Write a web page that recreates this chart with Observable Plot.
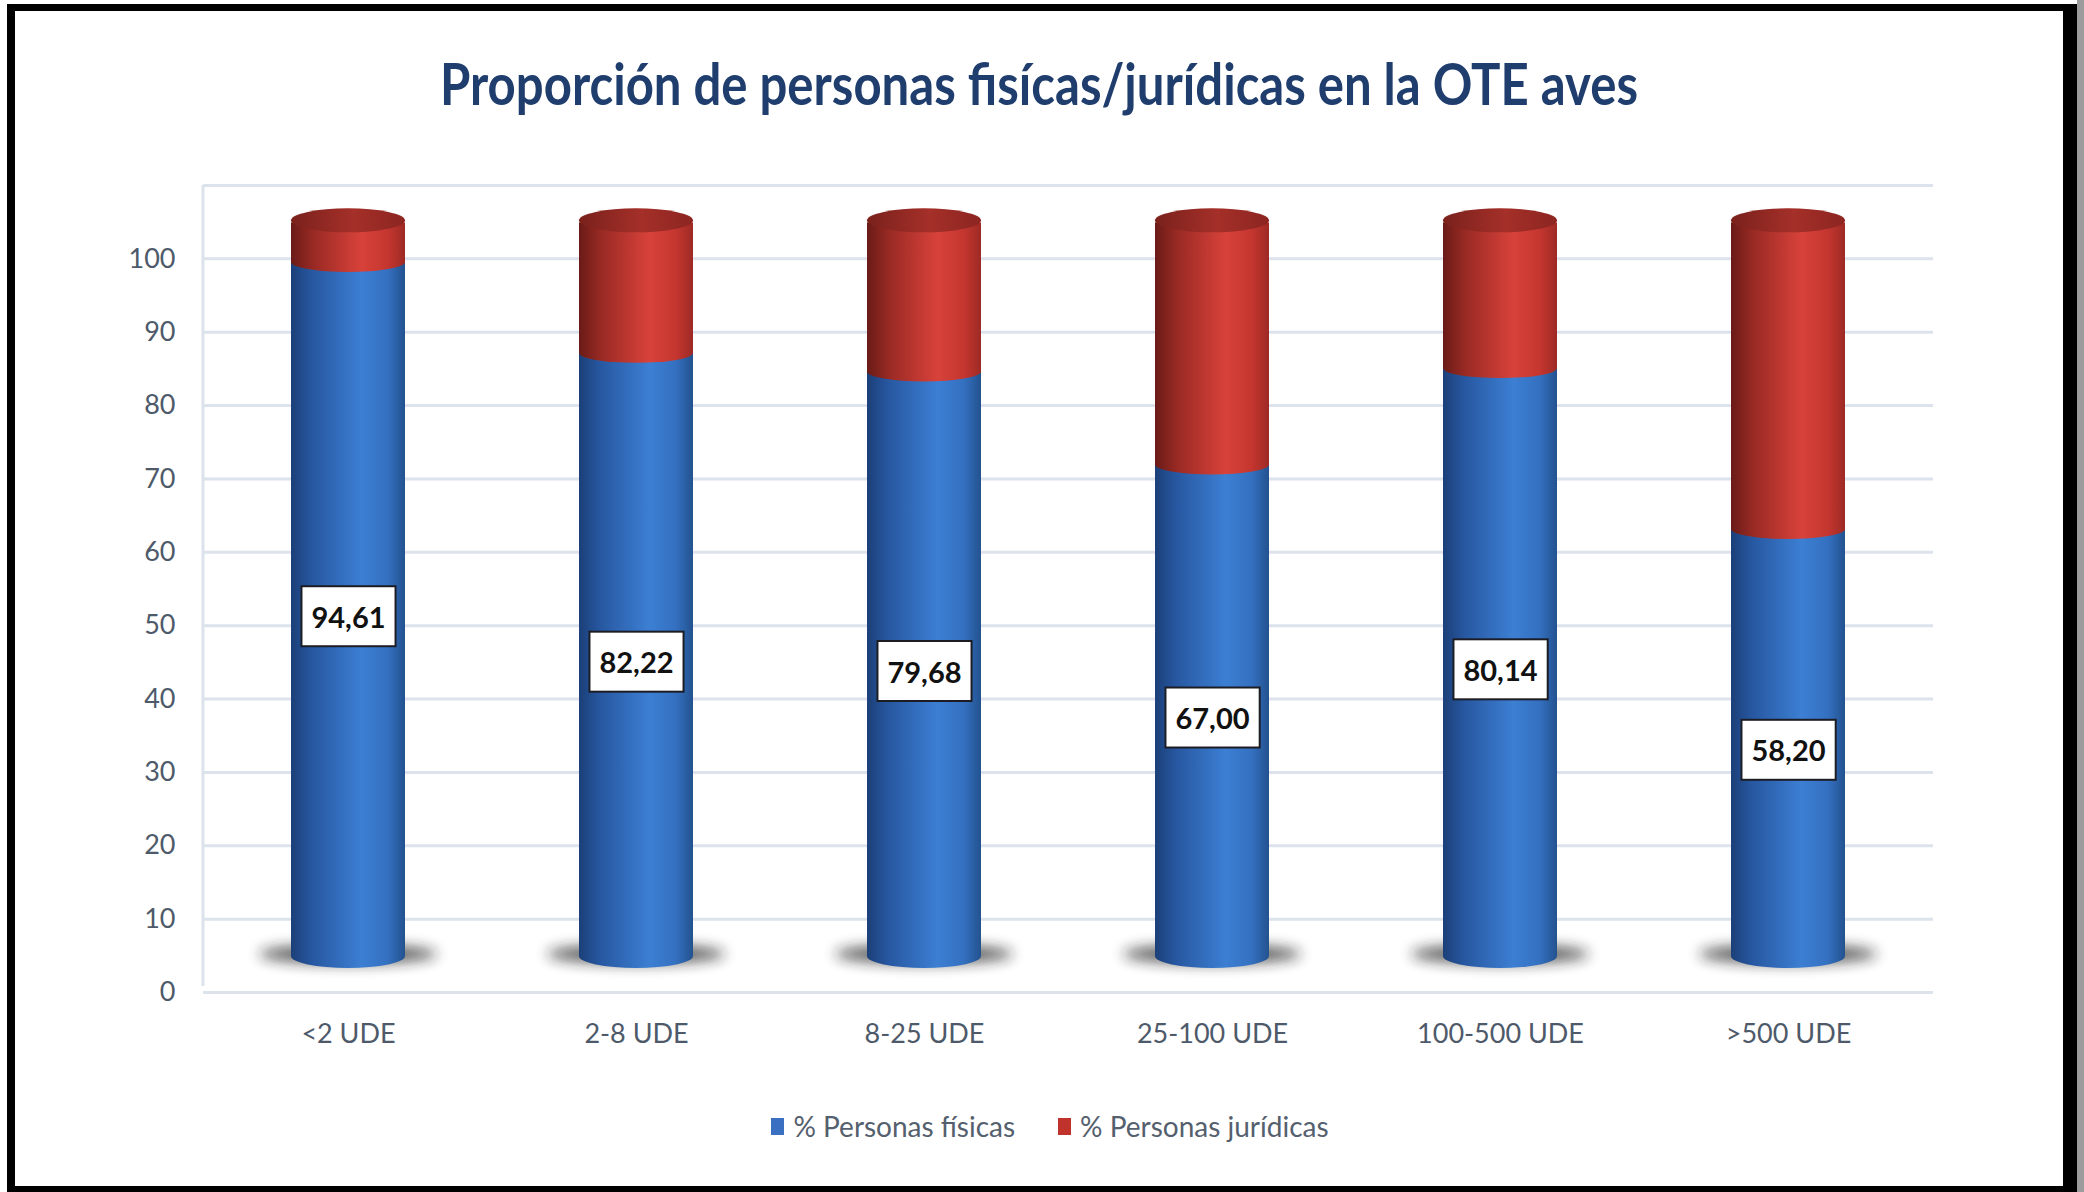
<!DOCTYPE html>
<html>
<head>
<meta charset="utf-8">
<script src="https://cdn.jsdelivr.net/npm/d3@7"></script>
<script src="https://cdn.jsdelivr.net/npm/@observablehq/plot@0.6"></script>
<style>
  html, body { margin: 0; padding: 0; background: #fff; }
  body { width: 2084px; height: 1192px; position: relative; overflow: hidden; font-family: Lato, "Open Sans", sans-serif; }
  #rightgray { position: absolute; left: 2077px; top: 0; width: 7px; height: 1192px; background: #9c9c9c; }
  #frame { position: absolute; left: 7px; top: 4px; width: 2070px; height: 1188px; box-sizing: border-box;
           border-style: solid; border-color: #000; border-width: 7px 14px 6px 8px; background: #fff; }
  #title { height: 139px; display: block; }
  #chart svg { display: block; }
  #legend { height: 126px; display: flex; justify-content: center; align-items: flex-start; padding-top: 51px; box-sizing: border-box;
            font-size: 28px; color: #55606e; gap: 43px; padding-left: 22px; }
  .item { display: flex; align-items: center; gap: 9px; line-height: 30px; }
  .sw { width: 13px; height: 17px; display: inline-block; }
</style>
</head>
<body>
<div id="rightgray"></div>
<svg width="0" height="0" style="position:absolute">
  <defs>
    <linearGradient id="gBlue" x1="0" x2="1" y1="0" y2="0">
      <stop offset="0" stop-color="#1b3f78"/>
      <stop offset="0.18" stop-color="#2757a0"/>
      <stop offset="0.62" stop-color="#3c7fd3"/>
      <stop offset="0.85" stop-color="#3470c0"/>
      <stop offset="1" stop-color="#23528f"/>
    </linearGradient>
    <linearGradient id="gRed" x1="0" x2="1" y1="0" y2="0">
      <stop offset="0" stop-color="#6a1b17"/>
      <stop offset="0.2" stop-color="#9a2a24"/>
      <stop offset="0.62" stop-color="#d8423a"/>
      <stop offset="0.85" stop-color="#c4362f"/>
      <stop offset="1" stop-color="#9e2a24"/>
    </linearGradient>
    <linearGradient id="gCap" x1="0" x2="1" y1="0" y2="0">
      <stop offset="0" stop-color="#7a211c"/>
      <stop offset="0.55" stop-color="#a52f29"/>
      <stop offset="1" stop-color="#8c2520"/>
    </linearGradient>
    <filter id="blurShadow" x="-50%" y="-200%" width="200%" height="500%">
      <feGaussianBlur stdDeviation="7"/>
    </filter>
  </defs>
</svg>
<div id="frame">
  <svg id="title" width="2048" height="139">
    <text x="1024" y="94" text-anchor="middle" font-family="Lato, 'Open Sans', sans-serif" font-weight="bold"
          font-size="58" fill="#1f3d6d" textLength="1198" lengthAdjust="spacingAndGlyphs">Proporción de personas fisícas/jurídicas en la OTE aves</text>
  </svg>
  <div id="chart"></div>
  <div id="legend"></div>
</div>
<script>
// ---- data ----
const categories = ["<2 UDE", "2-8 UDE", "8-25 UDE", "25-100 UDE", "100-500 UDE", ">500 UDE"];
const seriesNames = ["% Personas físicas", "% Personas jurídicas"];
const fisicas = [94.61, 82.22, 79.68, 67.00, 80.14, 58.20];
const juridicas = [5.39, 17.78, 20.32, 33.00, 19.86, 41.80];
const yTicks = [0, 10, 20, 30, 40, 50, 60, 70, 80, 90, 100];
const gridTicks = [0, 10, 20, 30, 40, 50, 60, 70, 80, 90, 100, 110];
const seriesColors = ["#3a6fc2", "#c0322c"];

// ---- table ----
const fisRows = categories.map((c, i) => ({cat: c, series: seriesNames[0], value: fisicas[i]}));
const jurRows = categories.map((c, i) => ({cat: c, series: seriesNames[1], value: juridicas[i]}));
const rows = fisRows.concat(jurRows);
const fmt = v => v.toFixed(2).replace(".", ",");

const chart = Plot.plot({
  width: 2048,
  height: 910,
  marginLeft: 188,
  marginRight: 130,
  marginTop: 35,
  marginBottom: 68,
  style: {fontFamily: "Lato, 'Open Sans', sans-serif", fontSize: "27px", color: "#4e5a6a", background: "transparent", overflow: "visible"},
  x: {domain: categories, paddingInner: 0.605, paddingOuter: 0.3025, tickSize: 0, tickPadding: 31, label: null},
  y: {domain: [0, 110], ticks: yTicks, tickSize: 0, tickPadding: 28, label: null},
  color: {domain: seriesNames, range: ["url(#gBlue)", "url(#gRed)"]},
  marks: [
    Plot.ruleY(gridTicks, {stroke: "#dce3ec", strokeWidth: 3}),
    Plot.barY(rows, {x: "cat", y: "value", fill: "series", order: seriesNames, dy: -36}),
    Plot.text(fisRows, Plot.stackY({x: "cat", y: "value", text: d => fmt(d.value), dy: -27,
      fontSize: 29, fontWeight: "bold", fontFamily: "Lato, sans-serif", fill: "#111"}))
  ]
});
document.getElementById("chart").appendChild(chart);

// ---- cylinder decoration derived from the drawn bars ----
const ns = "http://www.w3.org/2000/svg";
const svg = chart.tagName.toLowerCase() === "svg" ? chart : chart.querySelector("svg");
function el(name, attrs) { const e = document.createElementNS(ns, name); for (const k in attrs) e.setAttribute(k, attrs[k]); return e; }

// left wall line
const ys = chart.scale("y"), xs = chart.scale("x");
const wall = el("line", {x1: xs.range[0], x2: xs.range[0], y1: ys.apply(110), y2: ys.apply(0) - 6, stroke: "#dce3ec", "stroke-width": 3});
svg.insertBefore(wall, svg.querySelector("g"));

const rects = [...svg.querySelectorAll("rect")].filter(r => (r.getAttribute("fill") || "").startsWith("url(#g"));
const tops = [];
rects.forEach(r => {
  const x = +r.getAttribute("x"), y = +r.getAttribute("y"), w = +r.getAttribute("width"), h = +r.getAttribute("height");
  const cx = x + w / 2, parent = r.parentNode, fill = r.getAttribute("fill");
  if (fill === "url(#gBlue)") {
    const sh = el("ellipse", {cx, cy: y + h - 2, rx: w * 0.78, ry: 10, fill: "#1a1a1a", opacity: 0.7, filter: "url(#blurShadow)"});
    parent.insertBefore(sh, parent.firstChild);
    parent.appendChild(el("ellipse", {cx, cy: y + h, rx: w / 2, ry: 12, fill: "url(#gBlue)"}));
  } else {
    parent.appendChild(el("ellipse", {cx, cy: y + h, rx: w / 2, ry: 10, fill: "url(#gRed)"}));
    tops.push([parent, el("ellipse", {cx, cy: y - 2, rx: w / 2, ry: 12, fill: "url(#gCap)"})]);
  }
});
tops.forEach(([p, e]) => p.appendChild(e));

// label boxes around value labels
[...svg.querySelectorAll("text")].filter(t => /^\d+,\d\d$/.test(t.textContent)).forEach(t => {
  const bb = t.getBBox();
  const cy = bb.y + bb.height / 2;
  const box = el("rect", {x: bb.x - 10, y: cy - 30, width: bb.width + 20, height: 60, fill: "#fff", stroke: "#1c1c24", "stroke-width": 2});
  if (t.getAttribute("transform")) box.setAttribute("transform", t.getAttribute("transform"));
  t.parentNode.insertBefore(box, t);
});

// ---- legend ----
const legend = document.getElementById("legend");
seriesNames.forEach((s, i) => {
  const item = document.createElement("div");
  item.className = "item";
  const sw = document.createElement("span");
  sw.className = "sw";
  sw.style.background = seriesColors[i];
  const lab = document.createElement("span");
  lab.textContent = s;
  item.appendChild(sw);
  item.appendChild(lab);
  legend.appendChild(item);
});
</script>
</body>
</html>
